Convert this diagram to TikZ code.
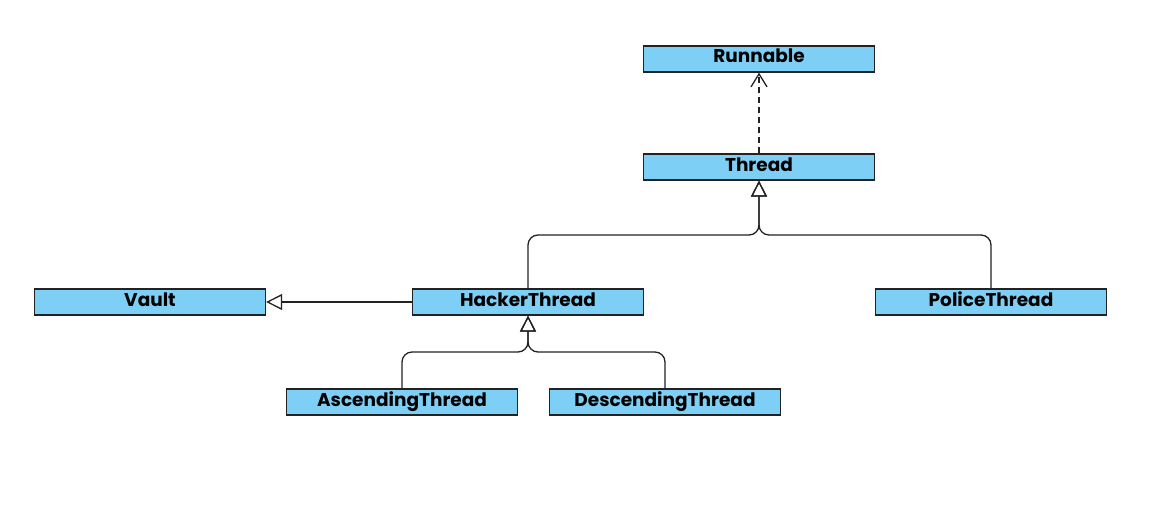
\documentclass[tikz,border=0pt]{standalone}
\usepackage{fontspec}
\setmainfont{Poppins}
\usepackage{xcolor}
\usetikzlibrary{arrows.meta}
\definecolor{classblue}{RGB}{126,207,245}
\definecolor{classline}{RGB}{34,34,34}
\tikzset{
    class-box/.style = {draw=classline, fill=classblue, line width=1.3pt, rectangle, minimum width=231pt, minimum height=26pt, inner sep=0pt, text height=13pt, text depth=5pt, font=\fontsize{18.5}{20}\selectfont\bfseries},
    extends-line/.style = {draw=classline, line width=1.3pt, rounded corners=10pt, -{Triangle[open, length=16pt, width=16pt]}},
    implements-line/.style = {draw=classline, line width=1.3pt, dashed, dash pattern=on 6pt off 4pt, -{Straight Barb[length=13pt, width=16pt]}},
}

\begin{document}
\begin{tikzpicture}[x=1pt, y=-1pt]
\useasboundingbox (0,0) rectangle (1172,532);
\node [class-box] (runnable) at (759,59) {Runnable};
\node [class-box] (thread) at (759,167) {Thread};
\node [class-box] (vault) at (150,302) {Vault};
\node [class-box] (hacker) at (528,302) {HackerThread};
\node [class-box] (police) at (991,302) {PoliceThread};
\node [class-box] (ascending) at (402,402) {AscendingThread};
\node [class-box] (descending) at (665,402) {DescendingThread};

\coordinate (thread-join) at (759,235);
\coordinate (hacker-join) at (528,352);

\draw [implements-line] (thread.north) -- (runnable.south);
\draw [extends-line] (hacker.north) |- (thread-join) -- (thread.south);
\draw [extends-line] (police.north) |- (thread-join) -- (thread.south);
\draw [extends-line] (ascending.north) |- (hacker-join) -- (hacker.south);
\draw [extends-line] (descending.north) |- (hacker-join) -- (hacker.south);
\draw [extends-line] (hacker.west) -- (vault.east);
\end{tikzpicture}
\end{document}
